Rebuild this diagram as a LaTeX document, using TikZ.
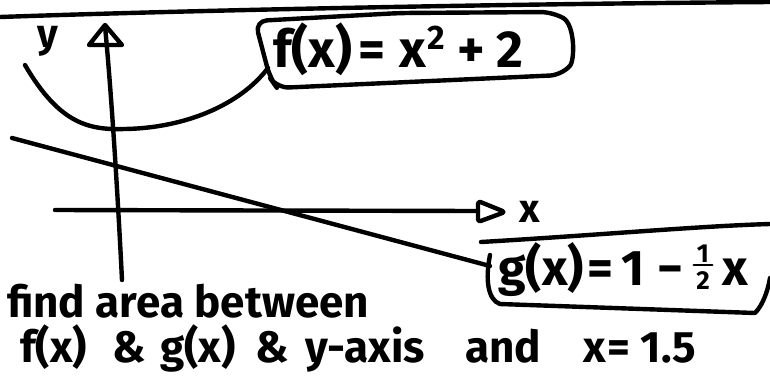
\documentclass[tikz,border=0pt]{standalone}
\usepackage{fontspec}
\setmainfont{Fira Sans}
\begin{document}
\begin{tikzpicture}[x=1pt,y=-1pt, line cap=round, line join=round,
  ink/.style={line width=4.4pt, black},
  hand/.style={inner sep=0pt, anchor=base west, font=\fontsize{44}{50}\selectfont\bfseries},
  big/.style={inner sep=0pt, anchor=base west, font=\fontsize{52}{60}\selectfont\bfseries},
  gfont/.style={inner sep=0pt, anchor=base west, font=\fontsize{50}{56}\selectfont\bfseries},
  frac/.style={inner sep=0pt, font=\fontsize{26}{28}\selectfont\bfseries},
  small/.style={inner sep=0pt, anchor=base, font=\fontsize{40}{44}\selectfont\bfseries}]
\useasboundingbox (0,0) rectangle (770,375);
\fill[white] (0,0) rectangle (770,375);
% top border
\draw[ink] (0,17) .. controls (200,10) and (500,4) .. (770,2);
% f box
\draw[ink, rounded corners=12pt] (255,21) -- (400,13) -- (553,12) .. controls (575,25) and (575,60) .. (562,75) -- (277,88) -- (270,78) -- cycle;
% parabola f
\draw[ink] (25,65) .. controls (60,125) and (90,130) .. (125,129) .. controls (185,128) and (240,105) .. (268,68);
% line g
\draw[ink] (12,138) -- (490,266);
% x axis
\draw[ink] (55,210) -- (478,211);
\draw[ink, rounded corners=3pt] (478,201) -- (505,212) -- (478,222) -- cycle;
% y axis
\draw[ink] (122,280) .. controls (118,200) and (112,100) .. (105,26);
\draw[ink] (105,25) -- (89,45) -- (122,45) -- cycle;
% g box
\draw[ink] (481,242) .. controls (600,235) and (700,226) .. (770,224);
\draw[ink] (490,255) .. controls (485,280) and (488,300) .. (500,304) -- (755,313) .. controls (763,305) and (768,290) .. (770,278);
% labels
\node[small] (ylab) at (48,47) {y};
\node[small] (xlab) at (530,222) {x};
\node[big] (flab) at (273,67) {f(x)\hspace{6pt}=\hspace{14pt}x\hspace{2pt}\raisebox{18pt}{\fontsize{34}{34}\selectfont 2}\hspace{12pt}+\hspace{12pt}2};
\node[gfont] (glab) at (498,285) {g(x)\hspace{4pt}=\hspace{8pt}1\hspace{12pt}−};
\node[frac] (gnum) at (703,254) {1};
\node[frac] (gden) at (703,281) {2};
\draw[line width=2.6pt] (gnum.south west) ++(-3,2) coordinate (bl) -- ([xshift=3pt,yshift=-2pt]gnum.south east);
\node[gfont] (gx) at (722,285) {x};
\node[hand] (line1) at (7,317) {find area between};
\node[hand] (w1) at (20,362) {f(x)};
\node[hand] (w2) at (112,362) {\&};
\node[hand] (w3) at (160,362) {g(x)};
\node[hand] (w4) at (255,362) {\&};
\node[hand] (w5) at (305,362) {y-axis};
\node[hand] (w6) at (465,362) {and};
\node[hand] (w7) at (583,362) {x\hspace{2pt}= 1.5};
\end{tikzpicture}
\end{document}
